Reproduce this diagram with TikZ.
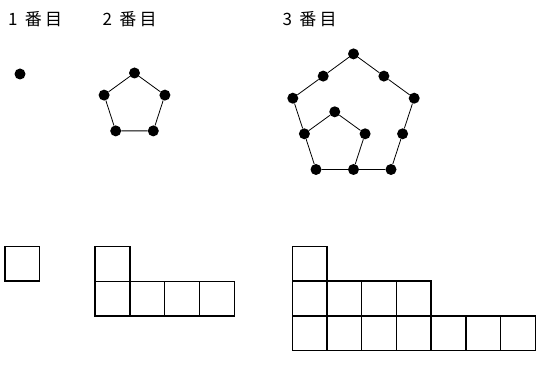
\documentclass[tikz,border=0pt]{standalone}
\usepackage{fontspec}
\newfontfamily\jpfont{Noto Sans CJK JP}
\begin{document}
\begin{tikzpicture}[x=1pt, y=-1pt,
        dot/.style={circle, fill=black, inner sep=0pt, minimum size=11pt},
        edge/.style={color=black, line width=0.8pt},
        cell/.style={color=black, line width=1.4pt},
        title/.style={anchor=base west, inner sep=0pt,
            font=\jpfont\fontsize{17}{17}\selectfont\addfontfeature{LetterSpace=20}}
    ]
        \useasboundingbox (0,0) rectangle (536,387);

        % titles
        \node[title] (t1) at (8,26) {1 番目};
        \node[title] (t2) at (102.5,26) {2 番目};
        \node[title] (t3) at (282.5,26) {3 番目};

        % stage 1
        \node[dot] (a1) at (20,74) {};

        % stage 2
        \node[dot] (b1) at (134.5,73) {};
        \node[dot] (b2) at (164.9,95.1) {};
        \node[dot] (b3) at (153.3,130.9) {};
        \node[dot] (b4) at (115.7,130.9) {};
        \node[dot] (b5) at (104.1,95.1) {};
        \draw[edge] (b1) -- (b2) -- (b3) -- (b4) -- (b5) -- (b1);

        % stage 3 (outer)
        \node[dot] (c1) at (353.5,53.9) {};
        \node[dot] (c2) at (383.9,76.1) {};
        \node[dot] (c3) at (414.2,98.2) {};
        \node[dot] (c4) at (402.6,133.8) {};
        \node[dot] (c5) at (391,169.5) {};
        \node[dot] (c6) at (353.5,169.5) {};
        \node[dot] (c7) at (316,169.5) {};
        \node[dot] (c8) at (304.4,133.8) {};
        \node[dot] (c9) at (292.8,98.2) {};
        \node[dot] (c10) at (323.2,76.1) {};
        \draw[edge] (c1) -- (c2) -- (c3) -- (c4) -- (c5) -- (c6) -- (c7)
            -- (c8) -- (c9) -- (c10) -- (c1);

        % stage 3 (inner)
        \node[dot] (d1) at (334.75,111.8) {};
        \node[dot] (d2) at (365.1,133.8) {};
        \draw[edge] (c8) -- (d1) -- (d2) -- (c6);

        % squares
        \draw[cell] (5,246.5) rectangle ++(34.7,34.7);

        \draw[cell] (95,246.5) rectangle ++(34.8,34.8);
        \foreach \i in {0,...,3}{
            \draw[cell] (95+34.8*\i,281.3) rectangle ++(34.8,34.8);
        }

        \draw[cell] (292.3,246.5) rectangle ++(34.7,34.7);
        \foreach \i in {0,...,3}{
            \draw[cell] (292.3+34.7*\i,281.2) rectangle ++(34.7,34.7);
        }
        \foreach \i in {0,...,6}{
            \draw[cell] (292.3+34.7*\i,315.9) rectangle ++(34.7,34.7);
        }

    \end{tikzpicture}
\end{document}
